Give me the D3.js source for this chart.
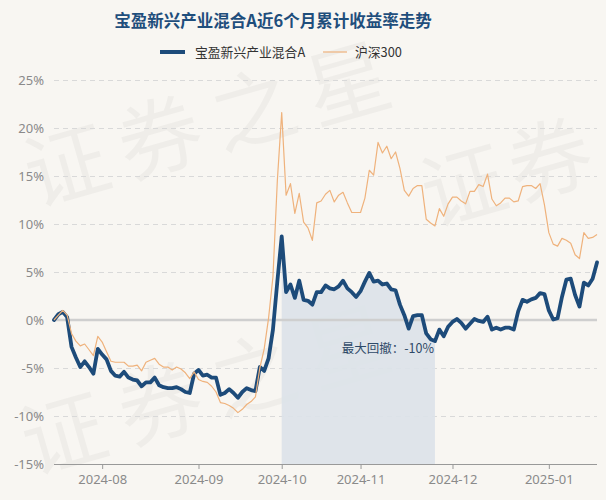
<!DOCTYPE html>
<html><head><meta charset="utf-8">
<script src="https://cdn.jsdelivr.net/npm/d3@7"></script>
<style>
html,body{margin:0;padding:0;background:#f8f6f2;}
svg{display:block;font-family:"Noto Sans CJK SC","Noto Sans",sans-serif;}
</style></head>
<body><svg id="c" width="606" height="500"></svg>
<script>
const title = "宝盈新兴产业混合A近6个月累计收益率走势";
const seriesNames = ["宝盈新兴产业混合A", "沪深300"];
const dates = [
"2024-07-17","2024-07-18","2024-07-19","2024-07-22","2024-07-23","2024-07-24","2024-07-25","2024-07-26","2024-07-29","2024-07-30","2024-07-31",
"2024-08-01","2024-08-02","2024-08-05","2024-08-06","2024-08-07","2024-08-08","2024-08-09","2024-08-12","2024-08-13","2024-08-14","2024-08-15","2024-08-16","2024-08-19","2024-08-20","2024-08-21","2024-08-22","2024-08-23","2024-08-26","2024-08-27","2024-08-28","2024-08-29","2024-08-30",
"2024-09-02","2024-09-03","2024-09-04","2024-09-05","2024-09-06","2024-09-09","2024-09-10","2024-09-11","2024-09-12","2024-09-13","2024-09-18","2024-09-19","2024-09-20","2024-09-23","2024-09-24","2024-09-25","2024-09-26","2024-09-27","2024-09-30",
"2024-10-08","2024-10-09","2024-10-10","2024-10-11","2024-10-14","2024-10-15","2024-10-16","2024-10-17","2024-10-18","2024-10-21","2024-10-22","2024-10-23","2024-10-24","2024-10-25","2024-10-28","2024-10-29","2024-10-30","2024-10-31",
"2024-11-01","2024-11-04","2024-11-05","2024-11-06","2024-11-07","2024-11-08","2024-11-11","2024-11-12","2024-11-13","2024-11-14","2024-11-15","2024-11-18","2024-11-19","2024-11-20","2024-11-21","2024-11-22","2024-11-25","2024-11-26","2024-11-27","2024-11-28","2024-11-29",
"2024-12-02","2024-12-03","2024-12-04","2024-12-05","2024-12-06","2024-12-09","2024-12-10","2024-12-11","2024-12-12","2024-12-13","2024-12-16","2024-12-17","2024-12-18","2024-12-19","2024-12-20","2024-12-23","2024-12-24","2024-12-25","2024-12-26","2024-12-27","2024-12-30","2024-12-31",
"2025-01-02","2025-01-03","2025-01-06","2025-01-07","2025-01-08","2025-01-09","2025-01-10","2025-01-13","2025-01-14","2025-01-15","2025-01-16","2025-01-17"
];
const fundValues = [
0,0.6,0.85,0.3,-2.8,-3.9,-4.9,-4.3,-4.9,-5.6,-3.0,
-3.6,-4.1,-5.3,-5.8,-5.9,-5.4,-6.0,-6.2,-6.3,-6.9,-6.5,-6.5,-6.0,-6.8,-7.0,-7.1,-7.1,-7.0,-7.2,-7.5,-7.6,-5.6,
-5.2,-5.8,-5.7,-6.0,-6.0,-7.8,-7.6,-7.2,-7.6,-8.1,-7.5,-7.1,-7.3,-7.4,-4.9,-5.3,-4.0,-1.0,4.0,
8.7,2.9,3.7,2.3,4.1,2.1,2.0,1.6,2.9,2.9,3.6,3.3,3.2,3.5,4.1,3.3,2.9,2.4,
3.0,4.0,4.9,4.0,4.1,3.7,3.8,3.2,3.1,1.6,0.5,-0.9,0.4,0.5,0.5,-1.4,-2.0,-2.2,-1.0,-1.7,-0.7,
-0.2,0.1,-0.3,-0.9,-0.4,0.1,-0.1,-0.2,0.35,-1.0,-0.8,-1.0,-0.8,-0.8,-1.0,0.9,2.1,1.9,2.15,2.3,2.8,2.7,
1.0,0.05,0.2,2.4,4.2,4.3,2.6,1.4,3.9,3.6,4.3,6.0
];
const csiValues = [
0,0.5,1.0,0.5,-1.4,-2.2,-2.7,-2.5,-3.1,-3.7,-1.7,
-2.3,-3.3,-4.3,-4.4,-4.4,-4.4,-4.8,-4.8,-4.7,-5.3,-4.4,-4.2,-4.0,-4.6,-4.9,-4.9,-5.2,-4.9,-5.1,-5.5,-6.1,-5.4,
-6.2,-6.4,-6.5,-6.9,-7.5,-8.6,-8.7,-8.9,-9.2,-9.65,-9.3,-8.8,-8.5,-8.0,-5.0,-3.0,0.2,4.5,14.5,
21.6,13.0,14.2,11.1,13.2,10.2,9.6,8.3,12.2,12.4,13.1,13.5,12.3,13.0,13.3,12.2,11.2,11.2,
11.2,12.7,15.6,15.1,18.5,17.4,18.1,16.8,17.5,15.8,13.5,12.9,13.7,14.0,14.0,10.5,10.1,9.8,11.6,10.8,12.1,
12.8,12.8,12.4,12.1,13.4,13.4,14.1,13.9,15.2,12.6,11.9,12.2,12.7,12.7,12.3,12.4,13.9,14.0,14.0,13.7,14.2,12.0,
9.1,7.9,7.7,8.5,8.3,8.0,6.8,6.4,9.1,8.5,8.6,8.9
];
const yTicks = [-15,-10,-5,0,5,10,15,20,25];
const xTickLabels = ["2024-08","2024-09","2024-10","2024-11","2024-12","2025-01"];
const watermarkChars = ["证","券","之","星","证","券","之","星","证","券"];

const colors = {fund:"#1d4b7a", csi:"#efb27c", grid:"#d9d9d9", zero:"#cfcfcf", title:"#1f4e7c"};
const L = 54, R = 597, T = 80, B = 464;

const svg = d3.select("#c");
svg.append("rect").attr("width",606).attr("height",500).attr("fill","#f8f6f2");

// watermark (each glyph kept inside the canvas)
const wmPos = [[65,160],[158,132],[252,104],[346,78],[62,428],[158,398],[252,370],[346,342],[462,180],[548,154]];
const wm = svg.append("g").attr("fill","rgba(0,0,0,0.035)").attr("font-size",84)
  .attr("text-anchor","middle").attr("dominant-baseline","central");
wmPos.forEach(([px,py],k)=>{
  wm.append("text").attr("x",px).attr("y",py).attr("transform",`rotate(-16,${px},${py})`).text(watermarkChars[k]);
});

const x = d3.scalePoint().domain(dates).range([L,R]);
const y = d3.scaleLinear().domain([-15,25]).range([B,T]);

// gridlines
const grid = svg.append("g").attr("transform",`translate(${L},0)`)
  .call(d3.axisLeft(y).tickValues(yTicks.filter(v=>v!==0 && v!==-15)).tickSize(-(R-L)).tickFormat(""));
grid.select(".domain").remove();
grid.selectAll("line").attr("stroke",colors.grid).attr("stroke-dasharray","5,4");

// y labels
const ya = svg.append("g").attr("transform",`translate(${L},0)`)
  .call(d3.axisLeft(y).tickValues(yTicks).tickSize(0).tickPadding(10).tickFormat(d=>d+"%"));
ya.select(".domain").remove();
ya.selectAll("text").attr("fill","#8a8a8a").attr("font-size",13)
  .attr("font-family","'Noto Sans','Open Sans',sans-serif");

// maximum drawdown
let peakI=0, best={dd:0,p:0,t:0};
for(let i=0;i<fundValues.length;i++){
  if(fundValues[i]>fundValues[peakI]) peakI=i;
  const dd=(1+fundValues[i]/100)/(1+fundValues[peakI]/100)-1;
  if(dd<best.dd) best={dd,p:peakI,t:i};
}
const ddIdx = d3.range(best.p, best.t+1);
svg.append("path").datum(ddIdx)
  .attr("d", d3.area().x(i=>x(dates[i])).y0(B).y1(i=>y(fundValues[i])))
  .attr("fill","#dce2e9").attr("opacity",0.9);

// zero line
svg.append("line").attr("x1",L).attr("x2",R).attr("y1",y(0)).attr("y2",y(0))
  .attr("stroke",colors.zero).attr("stroke-width",2.5);

// x axis
const monthStarts = xTickLabels.map(m=>dates.find(d=>d.startsWith(m)));
const xa = svg.append("g").attr("transform",`translate(0,${B})`)
  .call(d3.axisBottom(x).tickValues(monthStarts).tickSize(5).tickPadding(6).tickFormat(d=>d.slice(0,7)));
xa.select(".domain").attr("stroke","#999").attr("d",`M${L},0.5H${R}`);
xa.selectAll("line").attr("stroke","#999");
xa.selectAll("text").attr("fill","#8a8a8a").attr("font-size",13)
  .attr("font-family","'Noto Sans','Open Sans',sans-serif");

// lines
const line = vals => d3.line().x((d,i)=>x(dates[i])).y(d=>y(d))(vals);
svg.append("path").attr("d",line(fundValues)).attr("fill","none")
  .attr("stroke",colors.fund).attr("stroke-width",3.8).attr("stroke-linejoin","round").attr("stroke-linecap","round");
svg.append("path").attr("d",line(csiValues)).attr("fill","none")
  .attr("stroke",colors.csi).attr("stroke-width",1.2).attr("stroke-linejoin","round");

// drawdown label
svg.append("text").attr("x",x(dates[best.t])-1).attr("y",353).attr("text-anchor","end")
  .attr("font-size",12.5).attr("fill","#2f4a68")
  .text("最大回撤：" + Math.round(best.dd*100) + "%");

// title
svg.append("text").attr("x",273).attr("y",27).attr("text-anchor","middle")
  .attr("font-size",16.5).attr("font-weight","bold").attr("fill",colors.title).text(title);

// legend
const lg = svg.append("g").attr("font-size",12.8).attr("fill","#333");
lg.append("line").attr("x1",160).attr("x2",185).attr("y1",52).attr("y2",52).attr("stroke",colors.fund).attr("stroke-width",4);
lg.append("text").attr("x",195).attr("y",57).text(seriesNames[0]);
lg.append("line").attr("x1",323).attr("x2",347).attr("y1",52).attr("y2",52).attr("stroke",colors.csi).attr("stroke-width",1.2);
lg.append("text").attr("x",355).attr("y",57).text(seriesNames[1]);
</script></body></html>
